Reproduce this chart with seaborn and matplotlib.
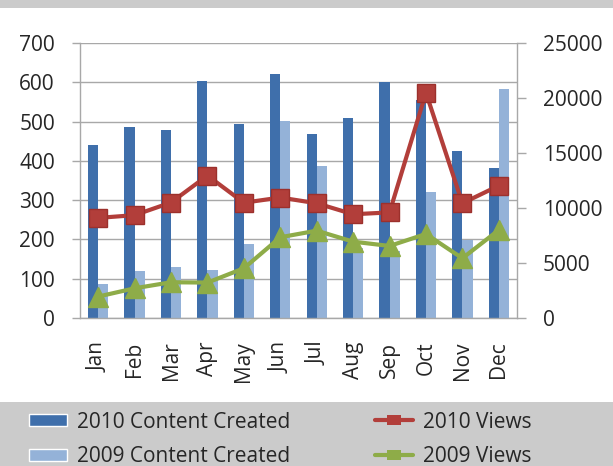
import matplotlib
matplotlib.use("Agg")
import matplotlib.pyplot as plt
import seaborn as sns
import pandas as pd
import numpy as np
from matplotlib.patches import Rectangle, Patch
from matplotlib.lines import Line2D

months = ["Jan", "Feb", "Mar", "Apr", "May", "Jun", "Jul", "Aug", "Sep", "Oct", "Nov", "Dec"]
content_2010 = [440, 485, 479, 604, 495, 620, 468, 508, 601, 555, 424, 382]
content_2009 = [87, 119, 129, 123, 189, 502, 386, 178, 171, 321, 198, 582]
views_2010 = [9100, 9350, 10500, 12950, 10480, 10950, 10430, 9430, 9600, 20480, 10430, 12030]
views_2009 = [1950, 2700, 3250, 3220, 4520, 7340, 7940, 6940, 6550, 7640, 5430, 8000]
left_ticks = [0, 100, 200, 300, 400, 500, 600, 700]
right_ticks = [0, 5000, 10000, 15000, 20000, 25000]

DARK = "#3f6fab"
LIGHT = "#94b2d8"
RED = "#b23e3a"
RED_EDGE = "#9c302c"
GREEN = "#8eac48"
GRID = "#a8a8a8"
FS = 15

sns.set_theme(style="white")
plt.rcParams['font.family'] = ['Open Sans', 'DejaVu Sans']

fig = plt.figure(figsize=(6.13, 4.66), dpi=100)
W, H = 613, 466
ax = fig.add_axes([80 / W, 1 - 318 / H, 437 / W, 275 / H])

bars = pd.DataFrame({
    "Month": months * 2,
    "Value": content_2010 + content_2009,
    "Series": ["2010 Content Created"] * 12 + ["2009 Content Created"] * 12,
})
sns.barplot(data=bars, x="Month", y="Value", hue="Series", order=months,
            palette=[DARK, LIGHT], width=0.56, saturation=1, ax=ax,
            legend=False, errorbar=None, linewidth=0)

ax.set_ylim(0, 700)
ax.set_xlim(-0.5, 11.5)
ax.set_yticks(left_ticks)
ax.set_xlabel("")
ax.set_ylabel("")
ax.set_axisbelow(True)
ax.yaxis.grid(True, color=GRID, lw=1)
ax.xaxis.grid(False)
for s in ["top", "right"]:
    ax.spines[s].set_visible(False)
for s in ["left", "bottom"]:
    ax.spines[s].set_color(GRID)
    ax.spines[s].set_linewidth(1)

ax.set_xticks(range(12))
ax.set_xticklabels(months, rotation=90, fontsize=FS)
ax.set_xticks(np.arange(-0.5, 12, 1), minor=True)
ax.tick_params(axis="x", which="major", length=0, pad=17)
ax.tick_params(axis="x", which="minor", length=6.5, color=GRID, width=1, direction="out")
ax.tick_params(axis="y", length=6, color=GRID, width=1, direction="out", labelsize=FS,
               pad=12, left=True)

ax2 = ax.twinx()
x = np.arange(12)
sns.lineplot(x=x, y=views_2010, ax=ax2, color=RED, lw=3.0, marker="s", markersize=13,
             markeredgecolor=RED_EDGE, markeredgewidth=1)
sns.lineplot(x=x, y=views_2009, ax=ax2, color=GREEN, lw=3.0, marker="^", markersize=14,
             markeredgecolor=GREEN, markeredgewidth=1)
ax2.set_ylim(0, 25000)
ax2.set_yticks(right_ticks)
ax2.set_ylabel("")
ax2.grid(False)
for s in ["top", "left", "bottom"]:
    ax2.spines[s].set_visible(False)
ax2.spines["right"].set_color(GRID)
ax2.spines["right"].set_linewidth(1)
ax2.tick_params(axis="y", right=True, length=6.5, color=GRID, width=1, direction="out",
                labelsize=FS, pad=12)

# background bands
fig.patches.append(Rectangle((0, 1 - 8 / H), 1, 8 / H, transform=fig.transFigure,
                             facecolor="#cbcbcb", edgecolor="none", zorder=-5))
fig.patches.append(Rectangle((0, 0), 1, 64 / H, transform=fig.transFigure,
                             facecolor="#cbcbcb", edgecolor="none", zorder=-5))

rect_marker = [(-1.5, -1), (1.5, -1), (1.5, 1), (-1.5, 1), (-1.5, -1)]
h1 = [Patch(facecolor=DARK, label="2010 Content Created"),
      Patch(facecolor=LIGHT, label="2009 Content Created")]
h2 = [Line2D([], [], color=RED, lw=3, marker=rect_marker, markersize=10,
             markeredgewidth=0, label="2010 Views"),
      Line2D([], [], color=GREEN, lw=3, marker=rect_marker, markersize=10,
             markeredgewidth=0, label="2009 Views")]
common = dict(frameon=False, fontsize=FS, handlelength=1.83, labelspacing=0.66,
              handletextpad=0.48, borderpad=0, borderaxespad=0)
lg1 = fig.legend(handles=h1, loc="center left", bbox_to_anchor=(29 / W, 1 - 439.5 / H),
                 handleheight=0.48, **common)
lg2 = fig.legend(handles=h2, loc="center left", bbox_to_anchor=(375 / W, 1 - 439.5 / H),
                 **common)

fig.savefig("out.png", dpi=100)
